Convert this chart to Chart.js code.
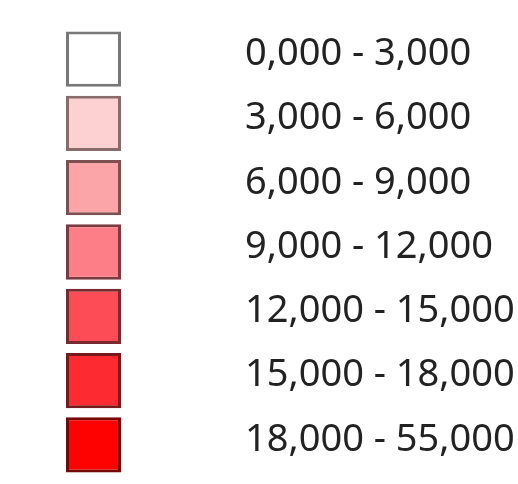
<!DOCTYPE html>
<html>
<head>
<meta charset="utf-8">
<script src="https://cdn.jsdelivr.net/npm/chart.js@4"></script>
<style>
html,body{margin:0;padding:0;background:#fff;}
#wrap{width:518px;height:484px;position:relative;}
</style>
</head>
<body>
<div id="wrap"><canvas id="c" width="518" height="484"></canvas></div>
<script>
// Legend classes (value ranges) and their swatch colours
const rangeLabels = ["0,000 - 3,000","3,000 - 6,000","6,000 - 9,000","9,000 - 12,000","12,000 - 15,000","15,000 - 18,000","18,000 - 55,000"];
const rangeLow  = [0, 3000, 6000, 9000, 12000, 15000, 18000];
const rangeHigh = [3000, 6000, 9000, 12000, 15000, 18000, 55000];
const fillColors   = ["#ffffff","#fdd0d1","#fca5a9","#fd7e86","#fd4c56","#fd2a31","#fe0202"];
const borderColors = ["#787878","#8a6b6b","#7d5050","#7a3c40","#782a2e","#781a1c","#760808"];
// each swatch is one unit wide on the swatch axis
const swatch = rangeLabels.map(() => 1);

new Chart(document.getElementById('c'), {
  type: 'bar',
  data: {
    labels: rangeLabels,
    datasets: [{
      data: swatch,
      backgroundColor: fillColors,
      borderColor: borderColors,
      borderWidth: 3,
      borderSkipped: false,
      barPercentage: 0.86,
      categoryPercentage: 1.0
    }]
  },
  options: {
    indexAxis: 'y',
    responsive: false,
    animation: false,
    devicePixelRatio: 1,
    layout: { padding: { left: 66, top: 27, bottom: 7, right: 0 } },
    plugins: { legend: { display: false }, tooltip: { enabled: false } },
    scales: {
      x: { display: false, min: 0, max: 168 / 55 },
      y: {
        position: 'right',
        grid: { display: false },
        border: { display: false },
        afterFit: (s) => { s.width = 284; s.paddingTop = 0; s.paddingBottom = 0; },
        ticks: {
          padding: 3,
          labelOffset: -5,
          color: '#222222',
          font: { family: 'Noto Sans', size: 38 }
        }
      }
    }
  }
});
</script>
</body>
</html>
